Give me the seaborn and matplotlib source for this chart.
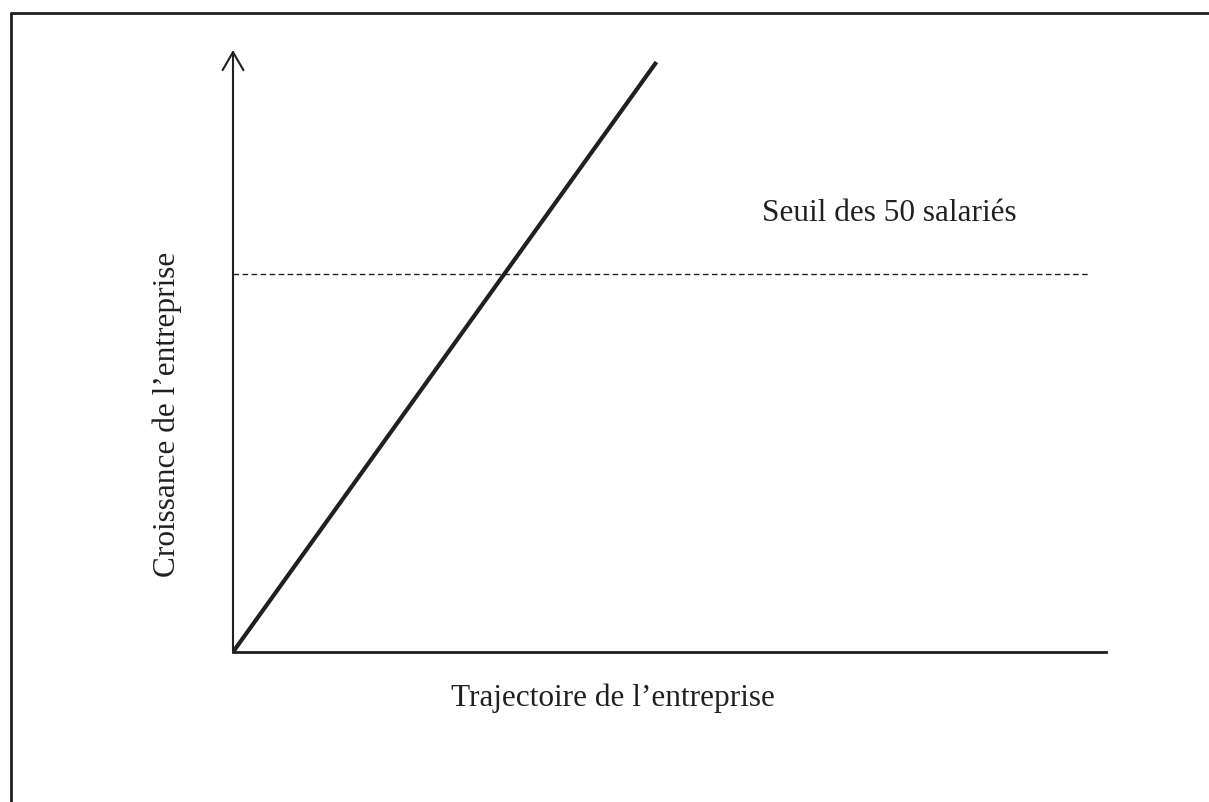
import matplotlib
matplotlib.use("Agg")
import matplotlib.pyplot as plt
from matplotlib.lines import Line2D
import numpy as np
import pandas as pd
import seaborn as sns

sns.set_style("white")
plt.rcParams['font.family'] = ['Liberation Serif', 'DejaVu Serif']

# values (arbitrary units, axes run 0..10)
trajectoire = [0.0, 4.85]
croissance = [0.0, 9.8]
seuil = 6.28
seuil_fin = 9.79
seuil_label = "Seuil des 50 salariés"
x_label = "Trajectoire de l\u2019entreprise"
y_label = "Croissance de l\u2019entreprise"

df = pd.DataFrame({"trajectoire": trajectoire, "croissance": croissance})

fig = plt.figure(figsize=(12.09, 8.02), dpi=100)
ax = fig.add_axes([233 / 1209, 150 / 802, 873 / 1209, 602 / 802])

sns.lineplot(data=df, x="trajectoire", y="croissance", ax=ax,
             color="#231f20", linewidth=3.0, solid_capstyle="butt")
ax.plot([0, seuil_fin], [seuil, seuil], color="#231f20", linewidth=1.0,
        linestyle=(0, (4, 2.5)))
ax.text(6.06, 7.16, seuil_label, fontsize=22.5, color="#231f20",
        ha="left", va="baseline")

ax.set_xlim(0, 10)
ax.set_ylim(0, 10)
ax.set_xticks([])
ax.set_yticks([])
for side in ["top", "right", "left"]:
    ax.spines[side].set_visible(False)
ax.spines["bottom"].set_color("#231f20")
ax.spines["bottom"].set_linewidth(2.0)

# y axis drawn as an open arrow
ax.annotate("", xy=(0, 1.0), xytext=(0, 0), xycoords="axes fraction",
            arrowprops=dict(arrowstyle="->,head_length=1.3,head_width=0.75",
                            color="#231f20", lw=1.5, shrinkA=0, shrinkB=0))

ax.set_xlabel(x_label, fontsize=22.5, color="#231f20", va="top")
ax.xaxis.set_label_coords(0.435, -0.053)
ax.set_ylabel(y_label, fontsize=22.5, color="#231f20", va="center")
ax.yaxis.set_label_coords(-0.0756, 0.3945)

# frame around the figure (left and top edges visible)
fig.add_artist(Line2D([11 / 1209, 11 / 1209], [0, 1 - 13 / 802],
                      transform=fig.transFigure, color="#231f20", linewidth=2.0))
fig.add_artist(Line2D([11 / 1209, 1], [1 - 13 / 802, 1 - 13 / 802],
                      transform=fig.transFigure, color="#231f20", linewidth=2.0))

fig.savefig("out.png", dpi=100, facecolor="white")
